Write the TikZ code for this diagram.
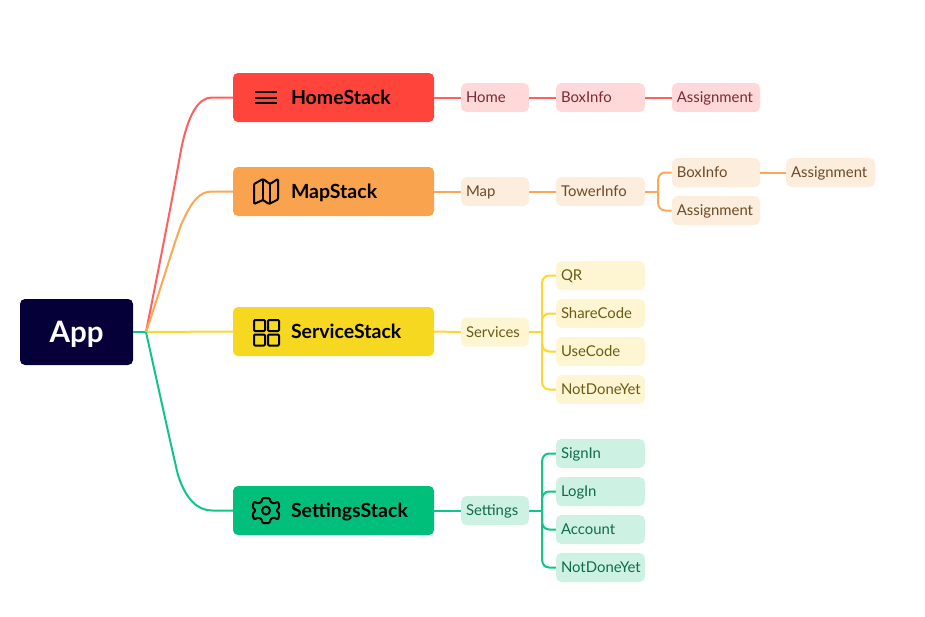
\documentclass[tikz,border=0pt]{standalone}
\usepackage{fontspec}
\setmainfont{Lato}
\definecolor{appc}{HTML}{050038}
\definecolor{redA}{HTML}{FF453B}\definecolor{redL}{HTML}{FF5F5F}\definecolor{redP}{HTML}{FFD9D9}\definecolor{redT}{HTML}{7A2A30}
\definecolor{oraA}{HTML}{F9A34E}\definecolor{oraL}{HTML}{FBA854}\definecolor{oraP}{HTML}{FDEDDC}\definecolor{oraT}{HTML}{6E4A28}
\definecolor{yelA}{HTML}{F5D81F}\definecolor{yelL}{HTML}{F9D92E}\definecolor{yelP}{HTML}{FEF6D2}\definecolor{yelT}{HTML}{6B5C14}
\definecolor{grnA}{HTML}{00BF7A}\definecolor{grnL}{HTML}{10C585}\definecolor{grnP}{HTML}{CDF2E4}\definecolor{grnT}{HTML}{0F6B4B}
\tikzset{
 x=1pt,y=-1pt,
 stackbox/.style={rounded corners=5pt,minimum height=49pt,minimum width=201pt,text width=201pt,inner xsep=0pt,inner ysep=0pt,align=left,text height=14pt,text depth=0pt,font=\fontsize{19.5}{22}\selectfont\bfseries,text=black},
 leaf/.style={rounded corners=5.5pt,minimum height=29pt,inner xsep=5pt,inner ysep=0pt,align=left,text height=10.7pt,text depth=0pt,font=\fontsize{14.9}{17}\selectfont},
 wa/.style={text width=58pt},
 wb/.style={text width=79pt},
 wc/.style={text width=78.5pt},
 redleaf/.style={leaf,fill=redP,text=redT},
 oraleaf/.style={leaf,fill=oraP,text=oraT},
 yelleaf/.style={leaf,fill=yelP,text=yelT},
 grnleaf/.style={leaf,fill=grnP,text=grnT},
 wire/.style={line width=2pt},
 trunk/.style={line width=2pt,rounded corners=7pt},
 glyph/.style={line width=2pt,draw=black,line join=round},
}
\begin{document}
\begin{tikzpicture}
\useasboundingbox (0,0) rectangle (925,616);
% root
\node[fill=appc,rounded corners=5pt,minimum width=113pt,minimum height=66pt,inner sep=0pt,text=white,text height=20pt,text depth=0pt,font=\fontsize{29.5}{32}\selectfont\bfseries] (app) at (76.5,332) {App};
\coordinate (hub) at (146,332);
% stacks
\node[stackbox,fill=redA] (home) at (333.5,97.5) {\hspace*{58pt}HomeStack};
\node[stackbox,fill=oraA] (map) at (333.5,191.5) {\hspace*{58pt}MapStack};
\node[stackbox,fill=yelA] (service) at (333.5,331.5) {\hspace*{58pt}ServiceStack};
\node[stackbox,fill=grnA] (settings) at (333.5,510.5) {\hspace*{58pt}SettingsStack};
% red leaves
\node[redleaf,wa] (r1) at (495,97.5) {Home};
\node[redleaf,wb] (r2) at (600.5,97.5) {BoxInfo};
\node[redleaf,wc] (r3) at (716,97.5) {Assignment};
% orange leaves
\node[oraleaf,wa] (o1) at (495,191.5) {Map};
\node[oraleaf,wb] (o2) at (600.5,191.5) {TowerInfo};
\node[oraleaf,wc] (o3) at (716,172.5) {BoxInfo};
\node[oraleaf,wc] (o4) at (716,210.5) {Assignment};
\node[oraleaf,wb] (o5) at (830.5,172.5) {Assignment};
% yellow leaves
\node[yelleaf,wa] (y1) at (495,332) {Services};
\node[yelleaf,wb] (y2) at (600.5,275.5) {QR};
\node[yelleaf,wb] (y3) at (600.5,313.5) {ShareCode};
\node[yelleaf,wb] (y4) at (600.5,351.5) {UseCode};
\node[yelleaf,wb] (y5) at (600.5,389.5) {NotDoneYet};
% green leaves
\node[grnleaf,wa] (g1) at (495,510.5) {Settings};
\node[grnleaf,wb] (g2) at (600.5,453.5) {SignIn};
\node[grnleaf,wb] (g3) at (600.5,491.5) {LogIn};
\node[grnleaf,wb] (g4) at (600.5,529.5) {Account};
\node[grnleaf,wb] (g5) at (600.5,567.5) {NotDoneYet};
% root connectors
\draw[wire,grnL] (app.east) -- (hub);
\draw[wire,redL] (hub) .. controls (160,262) and (174,190) .. (181,150) .. controls (188,115) and (198,97.5) .. (212,97.5) -- (home.west);
\draw[wire,oraL] (hub) .. controls (157,300) and (172,250) .. (181,225) .. controls (192,200) and (200,191.5) .. (212,191.5) -- (map.west);
\draw[wire,yelL] (hub) -- (service.west);
\draw[wire,grnL] (hub) .. controls (160,395) and (172,450) .. (178,475) .. controls (186,500) and (198,510.5) .. (212,510.5) -- (settings.west);
% level connectors
\draw[wire,redL] (home.east) -- (r1.west);
\draw[wire,redL] (r1.east) -- (r2.west);
\draw[wire,redL] (r2.east) -- (r3.west);
\draw[wire,oraL] (map.east) -- (o1.west);
\draw[wire,oraL] (o1.east) -- (o2.west);
\draw[wire,oraL] (o3.east) -- (o5.west);
\path (o2.east) ++(13,0) coordinate (ot);
\path (y1.east) ++(13,0) coordinate (yt);
\path (g1.east) ++(13,0) coordinate (gt);
\draw[wire,oraL] (o2.east) -- (ot);
\draw[trunk,oraL] (ot) |- (o3.west);
\draw[trunk,oraL] (ot) |- (o4.west);
\draw[wire,yelL] (service.east) -- (y1.west);
\draw[wire,yelL] (y1.east) -- (yt);
\foreach \t in {y2,y3,y4,y5} \draw[trunk,yelL] (yt) |- (\t.west);
\draw[wire,grnL] (settings.east) -- (g1.west);
\draw[wire,grnL] (g1.east) -- (gt);
\foreach \t in {g2,g3,g4,g5} \draw[trunk,grnL] (gt) |- (\t.west);
% icons
\draw[glyph] (255,92) -- (277,92) (255,97.5) -- (277,97.5) (255,103) -- (277,103);
\draw[glyph,rounded corners=1pt] (254,184) -- (263,179) -- (270,184) -- (278,179) -- (278,199.5) -- (269,204) -- (263,200) -- (254,204) -- cycle;
\draw[glyph] (263,179) -- (263,200) (270,184) -- (270,204);
\foreach \a/\b in {254/320,268/320,254/334.5,268/334.5}
  \draw[glyph,rounded corners=1pt] (\a,\b) rectangle ++(11,11);
\draw[glyph,rounded corners=1pt]
 (262.5,498) -- (269.5,498) -- (270.5,502) -- (274,503.5) -- (278,501.5) -- (279.5,507) -- (276.5,510.5) -- (279.5,514) -- (278,519.5) -- (274,517.5) -- (270.5,519) -- (269.5,523) -- (262.5,523) -- (261.5,519) -- (258,517.5) -- (254,519.5) -- (252.5,514) -- (255.5,510.5) -- (252.5,507) -- (254,501.5) -- (258,503.5) -- (261.5,502) -- cycle;
\draw[glyph] (266,510.5) circle (4pt);
\end{tikzpicture}
\end{document}
